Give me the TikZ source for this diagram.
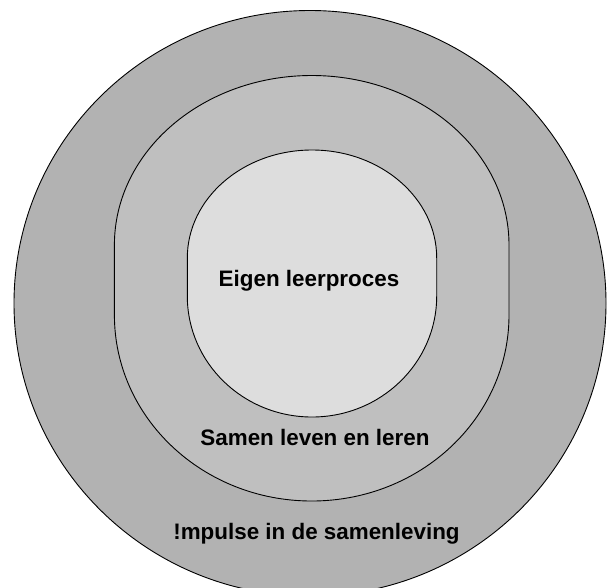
\documentclass[tikz,border=0pt]{standalone}
\usepackage{fontspec}
\setmainfont{Liberation Sans}
\definecolor{outerfill}{gray}{0.70}
\definecolor{midfill}{gray}{0.75}
\definecolor{innerfill}{gray}{0.867}
\begin{document}
\begin{tikzpicture}[x=1pt,y=-1pt,
  ring/.style={draw=black,line width=0.9pt},
  lbl/.style={font=\bfseries\fontsize{22.4}{26}\selectfont,anchor=base,inner sep=0pt}]
\useasboundingbox (0,0) rectangle (607,587);
\clip (0,0) rectangle (607,587);
\fill[white] (0,0) rectangle (607,587);
% outer ring
\draw[ring,fill=outerfill] (310,303.3) ellipse [x radius=296, y radius=292.8];
% middle shape
\draw[ring,fill=midfill] (114.4,245)
  .. controls (114.4,151.4) and (202.7,75.5) .. (311.7,75.5)
  .. controls (420.7,75.5) and (509,151.4) .. (509,245)
  -- (509,315)
  .. controls (509,417.7) and (420.7,501) .. (311.7,501)
  .. controls (202.7,501) and (114.4,417.7) .. (114.4,315)
  -- cycle;
% inner shape
\draw[ring,fill=innerfill] (187.3,258)
  .. controls (187.3,198.4) and (243.1,150) .. (312,150)
  .. controls (380.9,150) and (436.7,198.4) .. (436.7,258)
  -- (436.7,296)
  .. controls (436.7,362.8) and (380.9,417) .. (312,417)
  .. controls (243.1,417) and (187.3,362.8) .. (187.3,296)
  -- cycle;
\node[lbl] (eigen) at (309,286.7) {Eigen leerproces};
\node[lbl] (samen) at (315,445) {Samen leven en leren};
\node[lbl] (impulse) at (316.5,539) {!mpulse in de samenleving};
\end{tikzpicture}
\end{document}
